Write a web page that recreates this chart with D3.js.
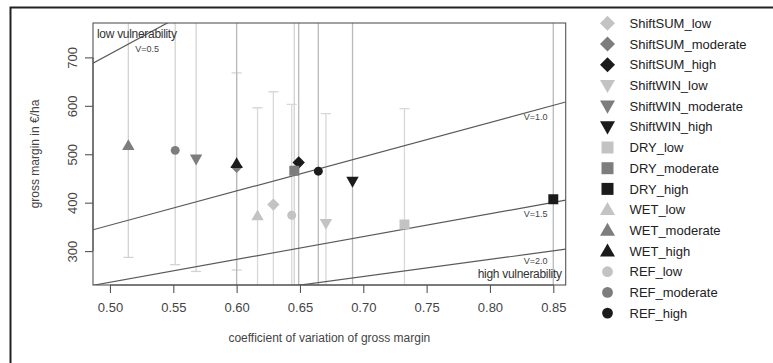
<!DOCTYPE html>
<html><head><meta charset="utf-8">
<script src="https://cdn.jsdelivr.net/npm/d3@7"></script>
<style>
html,body{margin:0;padding:0;background:#fff;}
svg{display:block;font-family:"Liberation Sans",Arial,sans-serif;}
</style></head>
<body><svg id="c" width="773" height="363"></svg>
<script>
// ---- data ----
const scenarios = ["ShiftSUM","ShiftWIN","DRY","WET","REF"];
const levels = ["low","moderate","high"];
// coefficient of variation (x), order: scenario x level
const cvShiftSUM = [0.629, 0.600, 0.649];
const cvShiftWIN = [0.6705, 0.568, 0.6915];
const cvDRY      = [0.7325, 0.6455, 0.850];
const cvWET      = [0.6165, 0.5145, 0.600];
const cvREF      = [0.6435, 0.5515, 0.6645];
// gross margin (y)
const gmShiftSUM = [396, 474, 483];
const gmShiftWIN = [357, 490, 444];
const gmDRY      = [355, 466, 407];
const gmWET      = [373, 518, 481];
const gmREF      = [374, 508, 465];
// error bar lower / upper
const loShiftSUM = [150, 261, 150];
const hiShiftSUM = [629, 668, 820];
const loShiftWIN = [130, 258, 100];
const hiShiftWIN = [584, 820, 820];
const loDRY      = [115, 100, 50];
const hiDRY      = [594, 820, 820];
const loWET      = [150, 287, 100];
const hiWET      = [596, 820, 820];
const loREF      = [145, 272, 100];
const hiREF      = [603, 820, 820];
const xTicks = [0.50,0.55,0.60,0.65,0.70,0.75,0.80,0.85];
const yTicks = [300,400,500,600,700];
const vValues = [0.5,1.0,1.5,2.0];
const vK = 707;   // gross margin = vK * cv / V

const cvAll = {ShiftSUM:cvShiftSUM,ShiftWIN:cvShiftWIN,DRY:cvDRY,WET:cvWET,REF:cvREF};
const gmAll = {ShiftSUM:gmShiftSUM,ShiftWIN:gmShiftWIN,DRY:gmDRY,WET:gmWET,REF:gmREF};
const loAll = {ShiftSUM:loShiftSUM,ShiftWIN:loShiftWIN,DRY:loDRY,WET:loWET,REF:loREF};
const hiAll = {ShiftSUM:hiShiftSUM,ShiftWIN:hiShiftWIN,DRY:hiDRY,WET:hiWET,REF:hiREF};

const pts = [];
scenarios.forEach(s=>levels.forEach((l,i)=>pts.push({s,l,x:cvAll[s][i],y:gmAll[s][i],lo:loAll[s][i],hi:hiAll[s][i]})));

const levelColor = {low:"#c3c3c3", moderate:"#7d7d7d", high:"#1b1b1b"};
const barColor = {low:"#d8d8d8", moderate:"#d3d3d3", high:"#b9b9b9"};
const shapeOf = {ShiftSUM:"diamond",ShiftWIN:"down",DRY:"square",WET:"up",REF:"circle"};

function shapePath(shape, r){
  switch(shape){
    case "diamond": return `M0,${-r}L${r},0L0,${r}L${-r},0Z`;
    case "up": { const h=r*1.75; return `M0,${-h*0.58}L${r},${h*0.42}L${-r},${h*0.42}Z`; }
    case "down": { const h=r*1.75; return `M0,${h*0.58}L${r},${-h*0.42}L${-r},${-h*0.42}Z`; }
    case "square": return `M${-r*0.8},${-r*0.8}h${r*1.6}v${r*1.6}h${-r*1.6}Z`;
    case "circle": { const c=r*0.72; return `M${c},0A${c},${c} 0 1,1 ${-c},0A${c},${c} 0 1,1 ${c},0Z`; }
  }
}

const svg = d3.select("#c");
const L=93, R=565.7, T=23, B=285;
const x = d3.scaleLinear().domain([0.4866,0.8598]).range([L,R]);
const y = d3.scaleLinear().domain([230,771]).range([B,T]);

// outer frame
svg.append("path").attr("d","M10.5,400V7.5H800").attr("fill","none").attr("stroke","#222").attr("stroke-width",2);

svg.append("defs").append("clipPath").attr("id","clip")
  .append("rect").attr("x",L).attr("y",T).attr("width",R-L).attr("height",B-T);
const plot = svg.append("g").attr("clip-path","url(#clip)");

// error bars
const eb = plot.selectAll("g.eb").data(pts).join("g").attr("class","eb")
  .attr("stroke",d=>barColor[d.l]).attr("stroke-width",1.3);
eb.append("line").attr("x1",d=>x(d.x)).attr("x2",d=>x(d.x)).attr("y1",d=>y(d.lo)).attr("y2",d=>y(d.hi));
eb.append("line").attr("x1",d=>x(d.x)-5).attr("x2",d=>x(d.x)+5).attr("y1",d=>y(d.lo)).attr("y2",d=>y(d.lo));
eb.append("line").attr("x1",d=>x(d.x)-5).attr("x2",d=>x(d.x)+5).attr("y1",d=>y(d.hi)).attr("y2",d=>y(d.hi));

// vulnerability lines
const xd = x.domain();
plot.selectAll("line.v").data(vValues).join("line").attr("class","v")
  .attr("x1",x(xd[0])).attr("x2",x(xd[1]))
  .attr("y1",v=>y(vK*xd[0]/v)).attr("y2",v=>y(vK*xd[1]/v))
  .attr("stroke","#5a5a5a").attr("stroke-width",1.2);

// points
plot.selectAll("path.pt").data(pts).join("path").attr("class","pt")
  .attr("transform",d=>`translate(${x(d.x)},${y(d.y)})`)
  .attr("d",d=>shapePath(shapeOf[d.s],6.2))
  .attr("fill",d=>levelColor[d.l]);

// V labels
const vLabX = [0.5293,0.836,0.836,0.836];
const vLabDy = [15,7,8,8];
svg.selectAll("text.vl").data(vValues).join("text").attr("class","vl")
  .attr("x",(v,i)=>x(vLabX[i])).attr("y",(v,i)=>y(vK*vLabX[i]/v)+vLabDy[i]+3)
  .attr("text-anchor","middle").attr("font-size",9).attr("fill","#444")
  .text(v=>"V="+v.toFixed(1));

svg.append("text").attr("x",L+4).attr("y",T+15).attr("font-size",12).attr("fill","#333")
  .attr("letter-spacing",-0.3).text("low vulnerability");
svg.append("text").attr("x",R-4).attr("y",B-7).attr("font-size",12).attr("fill","#333")
  .attr("text-anchor","end").attr("letter-spacing",-0.3).text("high vulnerability");

// box
svg.append("rect").attr("x",L).attr("y",T).attr("width",R-L).attr("height",B-T)
  .attr("fill","none").attr("stroke","#555").attr("stroke-width",1.1);

// axes
const xAxis = svg.append("g").attr("transform",`translate(0,${B})`)
  .call(d3.axisBottom(x).tickValues(xTicks).tickFormat(d3.format(".2f")).tickSize(8).tickPadding(10));
const yAxis = svg.append("g").attr("transform",`translate(${L},0)`)
  .call(d3.axisLeft(y).tickValues(yTicks).tickSize(8).tickPadding(4));
[xAxis,yAxis].forEach(a=>{
  a.select(".domain").attr("stroke","#555").attr("stroke-width",1.1);
  a.selectAll(".tick line").attr("stroke","#555").attr("stroke-width",1.1);
  a.selectAll("text").attr("font-size",13).attr("fill","#444").attr("font-family","Liberation Sans, Arial, sans-serif");
});
xAxis.select(".domain").attr("d",`M${x(xTicks[0])},0H${x(xTicks[xTicks.length-1])}`);
yAxis.select(".domain").attr("d",`M0,${y(yTicks[0])}V${y(yTicks[yTicks.length-1])}`);
yAxis.selectAll(".tick text").attr("transform","rotate(-90)").attr("x",0).attr("y",-21)
  .attr("dy","0.35em").attr("text-anchor","middle");

svg.append("text").attr("x",(L+R)/2).attr("y",342).attr("text-anchor","middle")
  .attr("font-size",12).attr("fill","#444").text("coefficient of variation of gross margin");
svg.append("text").attr("transform",`translate(39,${(T+B)/2}) rotate(-90)`).attr("text-anchor","middle")
  .attr("font-size",12).attr("fill","#444").text("gross margin in €/ha");

// legend
const leg = svg.selectAll("g.leg").data(pts).join("g").attr("class","leg")
  .attr("transform",(d,i)=>`translate(607.5,${23.3+i*20.7})`);
leg.append("path").attr("d",d=>shapePath(shapeOf[d.s],7.5)).attr("fill",d=>levelColor[d.l]);
leg.append("text").attr("x",22).attr("dy","0.36em").attr("font-size",13).attr("fill","#222")
  .text(d=>d.s+"_"+d.l);
</script></body></html>
